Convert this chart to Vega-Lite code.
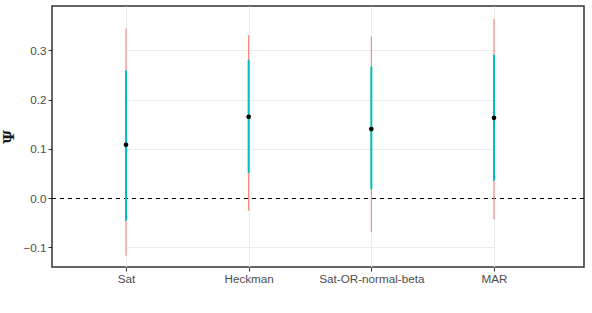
{
  "$schema": "https://vega.github.io/schema/vega-lite/v6.json",
  "autosize": "none",
  "width": 532,
  "height": 261,
  "padding": {"left": 52, "top": 6, "right": 8, "bottom": 46},
  "background": "white",
  "config": {
    "view": {"stroke": "#333333", "strokeWidth": 1.5},
    "axis": {
      "labelFont": "Liberation Sans",
      "labelFontSize": 11.7,
      "labelColor": "#4D4D4D",
      "tickColor": "#333333",
      "tickSize": 4,
      "domain": false,
      "gridColor": "#EBEBEB",
      "gridWidth": 1
    }
  },
  "data": {
    "values": [
      {"method": "Sat", "psi": 0.108, "lo_wide": -0.117, "hi_wide": 0.344, "lo_narrow": -0.046, "hi_narrow": 0.259},
      {"method": "Heckman", "psi": 0.165, "lo_wide": -0.026, "hi_wide": 0.331, "lo_narrow": 0.051, "hi_narrow": 0.281},
      {"method": "Sat-OR-normal-beta", "psi": 0.140, "lo_wide": -0.069, "hi_wide": 0.328, "lo_narrow": 0.018, "hi_narrow": 0.267},
      {"method": "MAR", "psi": 0.163, "lo_wide": -0.043, "hi_wide": 0.364, "lo_narrow": 0.035, "hi_narrow": 0.291}
    ]
  },
  "encoding": {
    "x": {
      "field": "method",
      "type": "nominal",
      "sort": ["Sat", "Heckman", "Sat-OR-normal-beta", "MAR"],
      "scale": {"type": "point", "range": [74, 442], "padding": 0},
      "axis": {"title": null, "labelAngle": 0, "labelPadding": 2, "grid": true}
    }
  },
  "layer": [
    {
      "mark": {"type": "rule", "color": "black", "strokeDash": [4, 4], "strokeWidth": 1, "yOffset": 0.45},
      "encoding": {
        "x": null,
        "y": {
          "datum": 0,
          "type": "quantitative",
          "scale": {"domain": [-0.14, 0.39], "nice": false, "zero": false},
          "axis": {
            "title": "Ψ",
            "titleFont": "DejaVu Serif",
            "titleFontSize": 15,
            "titleFontWeight": "bold",
            "titleColor": "#1A1A1A",
            "titlePadding": 6,
            "values": [-0.1, -0.05, 0, 0.05, 0.1, 0.15, 0.2, 0.25, 0.3, 0.35],
            "labelExpr": "abs(datum.value*10 - round(datum.value*10)) > 0.01 ? '' : format(datum.value, '.1f')",
            "labelPadding": 2,
            "tickOpacity": {"condition": {"test": "abs(datum.value*10 - round(datum.value*10)) > 0.01", "value": 0}, "value": 1},
            "gridWidth": {"condition": {"test": "abs(datum.value*10 - round(datum.value*10)) > 0.01", "value": 0.8}, "value": 1},
            "grid": true
          }
        }
      }
    },
    {
      "mark": {"type": "rule", "color": "#F8766D", "strokeWidth": 1},
      "encoding": {
        "y": {"field": "lo_wide", "type": "quantitative"},
        "y2": {"field": "hi_wide"}
      }
    },
    {
      "mark": {"type": "rule", "color": "#00BFC4", "strokeWidth": 2},
      "encoding": {
        "y": {"field": "lo_narrow", "type": "quantitative"},
        "y2": {"field": "hi_narrow"}
      }
    },
    {
      "mark": {"type": "point", "filled": true, "color": "black", "opacity": 1, "size": 22},
      "encoding": {
        "y": {"field": "psi", "type": "quantitative"}
      }
    }
  ]
}
